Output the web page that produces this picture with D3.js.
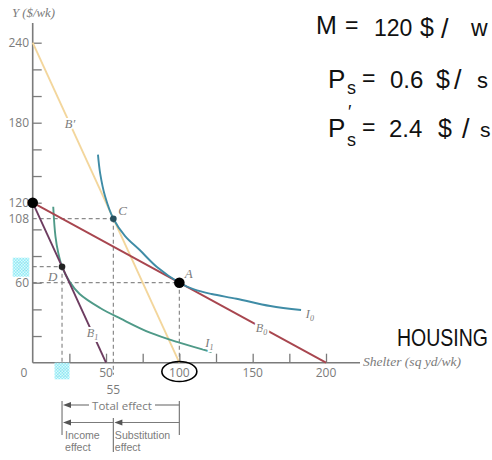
<!DOCTYPE html>
<html>
<head>
<meta charset="utf-8">
<script src="https://cdn.jsdelivr.net/npm/d3@7/dist/d3.min.js"></script>
<style>
  html, body { margin: 0; padding: 0; background: #fff; }
  svg { display: block; }
</style>
</head>
<body>
<svg id="chart" width="492" height="460"></svg>
<script>
// Budget lines (shelter, Y) endpoints
const budgetB0 = [[0, 120], [200, 0]];
const budgetBPrime = [[0, 240], [100, 0]];
const budgetB1 = [[0, 120], [50, 0]];

// Indifference curves
const curveI0 = [[44.5, 156], [46, 142], [49.3, 125], [55, 108], [63, 95], [73, 84.5], [84.5, 72], [100, 60], [110, 55], [122, 51.5], [139, 48], [162, 42.5], [183, 39.5]];
const curveI1 = [[14, 117], [15.5, 95], [17.5, 82], [20, 72], [25, 61], [32, 51.5], [46, 41], [60, 33], [80, 22.5], [100, 15], [122, 8]];

// Bundles
const pointA = [100, 60];
const pointC = [55, 108];
const pointD = [20, 72];
const pointStart = [0, 120];

// Axis ticks and labels
const yTicks = [20, 40, 60, 80, 100, 120, 140, 160, 180, 200, 220, 240];
const yTickLabels = [240, 180, 120, 108, 60];
const xTicks = [25, 50, 75, 100, 125, 150, 175, 200];
const xTickLabels = [0, 50, 100, 150, 200];

const svg = d3.select("#chart");
const x = d3.scaleLinear().domain([0, 200]).range([32.7, 326]);
const y = d3.scaleLinear().domain([0, 240]).range([362.7, 42.7]);

const gray = "#7b7b7b";
const tickFont = "'Open Sans', 'Noto Sans', sans-serif";
const serif = "'Liberation Serif', 'DejaVu Serif', serif";

// checker fill used for the marked labels
const defs = svg.append("defs");
const pat = defs.append("pattern").attr("id", "chk")
  .attr("width", 3).attr("height", 3).attr("patternUnits", "userSpaceOnUse");
pat.append("rect").attr("width", 3).attr("height", 3).attr("fill", "#8ae9f5");
pat.append("rect").attr("width", 1.5).attr("height", 1.5).attr("fill", "#d6fafe");
pat.append("rect").attr("x", 1.5).attr("y", 1.5).attr("width", 1.5).attr("height", 1.5).attr("fill", "#d6fafe");

// dashed guides
const guides = svg.append("g").attr("stroke", "#8a8a8a").attr("stroke-width", 1.2)
  .attr("stroke-dasharray", "4,3").attr("fill", "none");
guides.append("line").attr("x1", x(0)).attr("x2", x(pointC[0])).attr("y1", y(pointC[1])).attr("y2", y(pointC[1]));
guides.append("line").attr("x1", x(0)).attr("x2", x(pointD[0])).attr("y1", y(pointD[1])).attr("y2", y(pointD[1]));
guides.append("line").attr("x1", x(0)).attr("x2", x(pointA[0])).attr("y1", y(pointA[1])).attr("y2", y(pointA[1]));
guides.append("line").attr("x1", x(pointC[0])).attr("x2", x(pointC[0])).attr("y1", y(pointC[1])).attr("y2", y(0) + 12);
guides.append("line").attr("x1", x(pointD[0])).attr("x2", x(pointD[0])).attr("y1", y(pointD[1])).attr("y2", y(0));
guides.append("line").attr("x1", x(pointA[0])).attr("x2", x(pointA[0])).attr("y1", y(pointA[1])).attr("y2", y(0));

// axes
const axisG = svg.append("g");
axisG.append("g").attr("transform", `translate(0,${y(0)})`)
  .call(d3.axisBottom(x).tickValues(xTicks).tickSize(-9).tickFormat(""))
  .call(g => g.select(".domain").remove())
  .call(g => g.selectAll("line").attr("stroke", gray).attr("stroke-width", 1.3));
axisG.append("g").attr("transform", `translate(${x(0)},0)`)
  .call(d3.axisLeft(y).tickValues(yTicks).tickSize(-9).tickFormat(""))
  .call(g => g.select(".domain").remove())
  .call(g => g.selectAll("line").attr("stroke", gray).attr("stroke-width", 1.3));
axisG.append("line").attr("x1", x(0)).attr("x2", 360).attr("y1", y(0)).attr("y2", y(0))
  .attr("stroke", gray).attr("stroke-width", 1.6);
axisG.append("line").attr("x1", x(0)).attr("x2", x(0)).attr("y1", y(0)).attr("y2", 23)
  .attr("stroke", gray).attr("stroke-width", 1.6);

// tick labels
svg.append("g").selectAll("text").data(yTickLabels).join("text")
  .attr("x", 29).attr("y", d => y(d) + 4.2).attr("text-anchor", "end")
  .attr("font-family", tickFont).attr("font-size", 12).attr("fill", gray).text(d => d);
svg.append("g").selectAll("text").data(xTickLabels).join("text")
  .attr("x", d => d === 0 ? 24 : x(d)).attr("y", 377).attr("text-anchor", "middle")
  .attr("font-family", tickFont).attr("font-size", 12).attr("fill", gray).text(d => d);
svg.append("text").attr("x", x(pointC[0])).attr("y", 394).attr("text-anchor", "middle")
  .attr("font-family", tickFont).attr("font-size", 12).attr("fill", gray).text(pointC[0]);

// marked labels (72 on Y, 20 on shelter)
svg.append("text").attr("x", 29).attr("y", y(pointD[1]) + 4.2).attr("text-anchor", "end")
  .attr("font-family", tickFont).attr("font-size", 12).attr("fill", gray).text(pointD[1]);
svg.append("rect").attr("x", 12.7).attr("y", y(pointD[1]) - 9).attr("width", 16.6).attr("height", 19)
  .attr("fill", "url(#chk)").attr("opacity", 0.93);
svg.append("text").attr("x", x(pointD[0])).attr("y", 377).attr("text-anchor", "middle")
  .attr("font-family", tickFont).attr("font-size", 12).attr("fill", gray).text(pointD[0]);
svg.append("rect").attr("x", x(pointD[0]) - 7.5).attr("y", 362.7).attr("width", 15).attr("height", 16.6)
  .attr("fill", "url(#chk)").attr("opacity", 0.93);

// axis titles
svg.append("text").attr("x", 12).attr("y", 17).attr("font-family", serif).attr("font-style", "italic")
  .attr("font-size", 11.5).attr("fill", gray).attr("textLength", 43).attr("lengthAdjust", "spacingAndGlyphs")
  .text("Y ($/wk)");
svg.append("text").attr("x", 363).attr("y", 366).attr("font-family", serif).attr("font-style", "italic")
  .attr("font-size", 12.5).attr("fill", gray).attr("textLength", 98).attr("lengthAdjust", "spacingAndGlyphs")
  .text("Shelter (sq yd/wk)");

// budget lines and indifference curves
const line = d3.line().x(d => x(d[0])).y(d => y(d[1]));
const smooth = d3.line().x(d => x(d[0])).y(d => y(d[1])).curve(d3.curveCatmullRom.alpha(0.5));
const marks = svg.append("g").attr("fill", "none").attr("stroke-width", 1.9);
marks.append("path").attr("d", line(budgetBPrime)).attr("stroke", "#f3d69c");
marks.append("path").attr("d", smooth(curveI1)).attr("stroke", "#4f9a88");
marks.append("path").attr("d", line(budgetB1)).attr("stroke", "#6d3c60");
marks.append("path").attr("d", line(budgetB0)).attr("stroke", "#a8464f");
marks.append("path").attr("d", smooth(curveI0)).attr("stroke", "#3f8ca6");

// line labels with white halo
function lineLabel(px, py, main, sub) {
  const t = svg.append("text").attr("x", px).attr("y", py).attr("text-anchor", "middle")
    .attr("font-family", serif).attr("font-style", "italic").attr("font-size", 12.5).attr("fill", gray)
    .attr("stroke", "#fff").attr("stroke-width", 4).attr("paint-order", "stroke");
  t.append("tspan").text(main);
  if (sub) t.append("tspan").attr("font-size", 8).attr("dy", 3).text(sub);
}
lineLabel(x(25.4), y(240 - 2.4 * 25.4) + 4, "B′", null);
lineLabel(x(40.8), y(120 - 2.4 * 40.8) + 4, "B", "1");
lineLabel(x(156), y(120 - 0.6 * 156) + 4, "B", "0");
lineLabel(x(189), y(37.5) + 5, "I", "0");
lineLabel(x(120.5), y(14) + 3, "I", "1");

// point labels
const pl = (px, py, s) => svg.append("text").attr("x", px).attr("y", py).attr("font-family", serif)
  .attr("font-style", "italic").attr("font-size", 13).attr("fill", gray).text(s);
pl(x(pointA[0]) + 5.5, y(pointA[1]) - 5, "A");
pl(x(pointC[0]) + 5, y(pointC[1]) - 4, "C");
pl(x(pointD[0]) - 14, y(pointD[1]) + 14, "D");

// bundle dots
svg.append("circle").attr("cx", x(pointC[0])).attr("cy", y(pointC[1])).attr("r", 3.3).attr("fill", "#284f5c");
svg.append("circle").attr("cx", x(pointD[0])).attr("cy", y(pointD[1])).attr("r", 3.3).attr("fill", "#222");
svg.append("circle").attr("cx", x(pointA[0])).attr("cy", y(pointA[1])).attr("r", 5.3).attr("fill", "#000");
svg.append("circle").attr("cx", x(pointStart[0])).attr("cy", y(pointStart[1])).attr("r", 5.3).attr("fill", "#000");

// effect brackets under the axis
const br = svg.append("g").attr("stroke", gray).attr("stroke-width", 1.2).attr("fill", "none");
const xD = x(pointD[0]), xC = x(pointC[0]), xA = x(pointA[0]);
br.append("line").attr("x1", xD).attr("x2", xD).attr("y1", 401).attr("y2", 435);
br.append("line").attr("x1", xA).attr("x2", xA).attr("y1", 401).attr("y2", 435);
br.append("line").attr("x1", xC).attr("x2", xC).attr("y1", 418).attr("y2", 452);
br.append("line").attr("x1", xD + 6).attr("x2", 89).attr("y1", 405).attr("y2", 405);
br.append("line").attr("x1", 155).attr("x2", xA).attr("y1", 405).attr("y2", 405);
br.append("line").attr("x1", xD + 6).attr("x2", xC).attr("y1", 422.5).attr("y2", 422.5);
br.append("line").attr("x1", xC + 6).attr("x2", xA).attr("y1", 422.5).attr("y2", 422.5);
const arrow = (ax, ay) => svg.append("path")
  .attr("d", `M${ax},${ay} l8,-3 l0,6 z`).attr("fill", "#555");
arrow(xD + 1, 405);
arrow(xD + 1, 422.5);
arrow(xC + 1, 422.5);
const bt = (px, py, s, anchor, size, fam) => svg.append("text").attr("x", px).attr("y", py)
  .attr("text-anchor", anchor || "start").attr("font-family", fam || tickFont)
  .attr("font-size", size || 10.5).attr("fill", gray).text(s);
const narrowFont = "'Liberation Sans', Arial, sans-serif";
bt(122, 409.5, "Total effect", "middle", 11.5);
bt(xD + 3, 438.5, "Income", "start", 10.6, narrowFont);
bt(xD + 3, 451, "effect", "start", 10.6, narrowFont);
bt(xC + 1.5, 438.5, "Substitution", "start", 10.6, narrowFont);
bt(xC + 1.5, 451, "effect", "start", 10.6, narrowFont);

// handwritten notes: one text per line, glyph groups placed with tspans
const hand = "'Liberation Sans', 'DejaVu Sans', sans-serif";
const note = svg.append("g").attr("font-family", hand).attr("fill", "#111");
function noteLine(baseY, parts) {
  const t = note.append("text").attr("y", baseY);
  parts.forEach(p => t.append("tspan").attr("x", p.x).attr("y", baseY + (p.dy || 0))
    .attr("font-size", p.size).text(p.s));
}
noteLine(36, [
  { x: 316, s: "M", size: 25, dy: -2 },
  { x: 345, s: "=", size: 23, dy: -3 },
  { x: 374, s: "120", size: 23 },
  { x: 420, s: "$", size: 25 },
  { x: 441, s: "/", size: 27, dy: 2 },
  { x: 471, s: "w", size: 23 }
]);
noteLine(88, [
  { x: 328, s: "P", size: 26 },
  { x: 347, s: "s", size: 18, dy: 6 },
  { x: 362, s: "=", size: 23, dy: -2 },
  { x: 390, s: "0.6", size: 24 },
  { x: 436, s: "$", size: 25 },
  { x: 454, s: "/", size: 27, dy: 1 },
  { x: 477, s: "s", size: 22 }
]);
noteLine(137, [
  { x: 328, s: "P", size: 26 },
  { x: 348, s: "′", size: 18, dy: -19 },
  { x: 347, s: "s", size: 18, dy: 9 },
  { x: 362, s: "=", size: 23, dy: -2 },
  { x: 389, s: "2.4", size: 24 },
  { x: 438, s: "$", size: 25 },
  { x: 462, s: "/", size: 27, dy: 1 },
  { x: 480, s: "s", size: 21 }
]);

note.append("text").attr("transform", "translate(397,346) scale(1,1.25)")
  .attr("font-size", 19.5).text("HOUSING");

// hand-drawn ring around 100
svg.append("ellipse").attr("cx", x(100)).attr("cy", 371.5).attr("rx", 17.5).attr("ry", 10)
  .attr("fill", "none").attr("stroke", "#000").attr("stroke-width", 1.6);
</script>
</body>
</html>
